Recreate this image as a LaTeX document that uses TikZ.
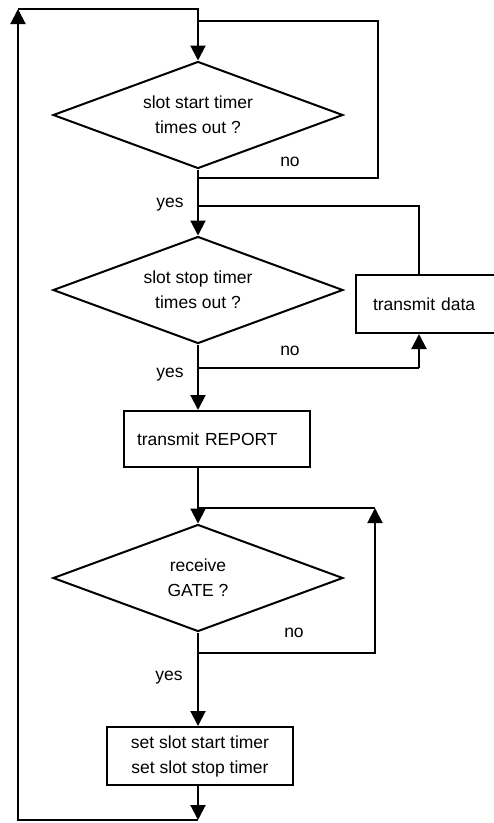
\documentclass[tikz,border=0pt]{standalone}
\usepackage{fontspec}
\setmainfont{Liberation Sans}
\usetikzlibrary{arrows.meta,shapes.geometric}
\begin{document}
\begin{tikzpicture}[x=1pt,y=-1pt,
  line width=2pt,
  every node/.style={font=\fontsize{17.5}{25}\selectfont},
  arr/.style={-{Triangle[length=15pt,width=15pt]}},
  decision/.style={diamond,draw,inner sep=0pt,aspect=2.7,minimum width=290pt,minimum height=107pt,align=center},
  procbox/.style={rectangle,draw,inner sep=0pt,align=center},
  lbl/.style={inner sep=0pt}]
\useasboundingbox (0,0) rectangle (494,823);

% nodes
\node[decision] (d1) at (198,115) {slot start timer\\times out ?};
\node[decision] (d2) at (198,290) {slot stop timer\\times out ?};
\node[decision] (d3) at (198,578) {receive\\GATE ?};
\node[procbox,anchor=west,minimum height=58pt,text width=116pt,inner xsep=17pt,align=left] (data) at (355,304) {transmit data};
\node[procbox,minimum width=186pt,minimum height=56pt,text width=160pt,inner xsep=13pt,align=left] (rep) at (217,439) {transmit REPORT};
\node[procbox,minimum width=186pt,minimum height=58pt] (set) at (200,756) {set slot start timer\\set slot stop timer};

% coordinates
\coordinate (ctl) at (18,9);
\coordinate (ctop) at (198,9);
\coordinate (cbl) at (18,820);
\coordinate (cbot) at (198,820);
\coordinate (j0) at (198,21);
\coordinate (r0) at (378,21);
\coordinate (j1) at (198,178);
\coordinate (r1) at (378,178);
\coordinate (j2) at (198,206);
\coordinate (j3) at (198,368);
\coordinate (jd) at (419,368);
\coordinate (j4) at (198,508);
\coordinate (k2) at (375,508);
\coordinate (j5) at (198,653);
\coordinate (k1) at (375,653);

% connectors
\draw[arr] (cbot) -- (cbl) -- (ctl);
\draw[arr] (ctl) -- (ctop) -- (d1.north);
\draw (d1.south) -- (j1) -- (r1) -- (r0) -- (j0);
\draw[arr] (j1) -- (d2.north);
\draw (jd |- data.north) -- (jd |- j2) -- (j2);
\draw (d2.south) -- (j3) -- (jd);
\draw[arr] (jd) -- (jd |- data.south);
\draw[arr] (j3) -- (rep.north -| j3);
\draw[arr] (rep.south -| j3) -- (d3.north);
\draw (d3.south) -- (j5);
\draw[arr] (j5) -- (k1) -- (k2);
\draw (k2) -- (j4);
\draw[arr] (j5) -- (set.north -| j5);
\draw[arr] (set.south -| cbot) -- (cbot);

% labels
\node[lbl] (n1) at (290,162) {no};
\node[lbl] (n2) at (290,351) {no};
\node[lbl] (n3) at (294,633) {no};
\node[lbl] (y1) at (170,205) {yes};
\node[lbl] (y2) at (170,375) {yes};
\node[lbl] (y3) at (169,678) {yes};
\end{tikzpicture}
\end{document}
